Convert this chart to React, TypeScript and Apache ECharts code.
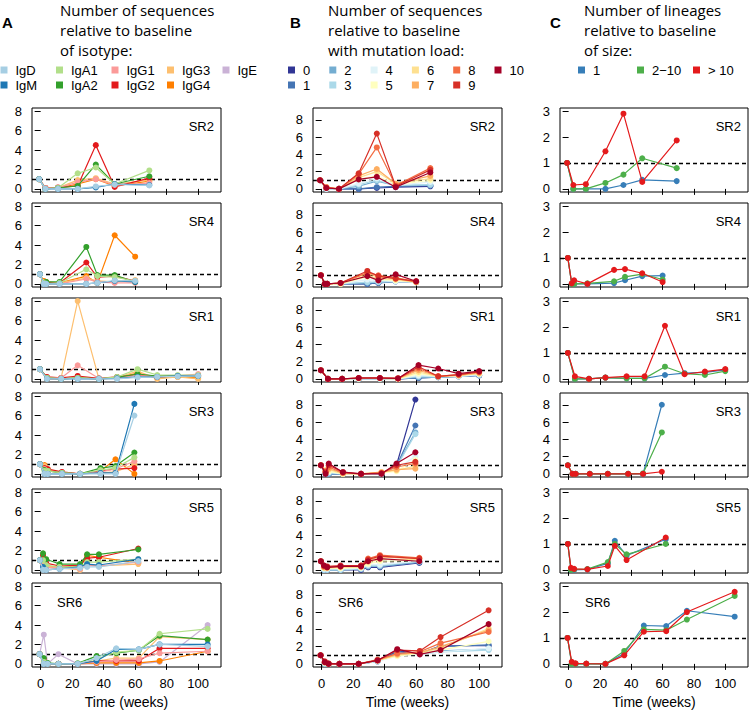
import React, { useEffect, useRef } from "react";
import * as echarts from "echarts";

// ---------- data ----------
const subjects = ["SR2", "SR4", "SR1", "SR3", "SR5", "SR6"];

const tSR2 = [-1, 3, 11, 23.5, 35, 47, 69];
const tSR4 = [-0.5, 2, 3.5, 12, 29, 36, 47, 60];
const tSR1 = [-0.5, 4, 13, 23.5, 37, 48.5, 61.5, 74, 87, 100];
const tSR3 = [-0.5, 2.5, 4.5, 13.5, 25, 38, 47.5, 59.5];
const tSR5 = [-0.5, 1.5, 3.5, 12, 25, 29.5, 37, 62];
const tSR6 = [-0.7, 2, 4.4, 11.3, 23.5, 35.5, 48, 62.3, 75.5, 106];

const xTicks = [0, 20, 40, 60, 80, 100];
const yTicksWide = [0, 2, 4, 6, 8];
const yTicksNarrow = [0, 1, 2, 3];

// Panel A: isotypes
const isotypes = ["IgD", "IgM", "IgA1", "IgA2", "IgG1", "IgG2", "IgG3", "IgG4", "IgE"];
const isotypeColors = ["#a6cee3", "#1f78b4", "#b2df8a", "#33a02c", "#fb9a99", "#e31a1c", "#fdbf6f", "#ff7f00", "#cab2d6"];

const isoSR2 = [
  [1, 0, 0, 0, 0.25, 0.45, 0.35],
  [1, 0, 0, 0, 0.15, 0.5, 0.4],
  [1, 0, 0.1, 1.6, 2.2, 0.5, 1.9],
  [1, 0, 0.1, 0.3, 2.5, 0.5, 1.3],
  [1, 0.1, 0.1, 0.7, 1.0, 0.4, 0.6],
  [1, 0.1, 0.15, 0.3, 4.5, 0.2, 1.1],
  [1, 0.1, 0.1, 0.9, 1.1, 0.5, 0.9],
  [1, 0.1, 0.1, 0.5, 1.0, 0.3, 0.8],
  null,
];
const isoSR4 = [
  [1, 0, 0, 0, 0, 0.1, 0.35, 0.3],
  [1, 0, 0, 0, 0, 0.1, 0.3, 0.2],
  [1, 0.1, 0, 0.1, 1.5, 0.8, 0.7, 0.3],
  [1, 0.1, 0.2, 0.2, 3.8, 0.9, 0.9, 0.2],
  [1, 0, 0, 0, 0.5, 0.2, 0.1, 0.1],
  [1, 0.1, 0.1, 0.1, 2.2, 0.7, 0.8, 0.3],
  [1, 0.2, 0.1, 0.1, 0.6, 0.3, 0.2, 0.4],
  [1, 0.3, 0.2, 0.1, 0.8, 0.1, 5.0, 2.8],
  null,
];
const isoSR1 = [
  [1, 0, 0, 0, 0, 0, 0.15, 0.2, 0.25, 0.3],
  [1, 0, 0, 0, 0, 0.05, 0.2, 0.2, 0.3, 0.3],
  [1, 0.1, 0, 0.1, 0, 0.2, 1.0, 0.4, 0.4, 0.4],
  [1, 0.1, 0, 0.1, 0, 0.15, 0.5, 0.3, 0.3, 0.3],
  [1, 0.1, 0.1, 1.4, 0.05, 0.1, 0.4, 0.3, 0.3, 0.5],
  [1, 0.2, 0.1, 0.3, 0.05, 0.2, 0.4, 0.2, 0.3, 0.3],
  [1, 0.1, 0.1, 8.0, 0, 0.1, 0.8, 0, 0.2, 0],
  [1, 0, 0, 0.1, 0, 0.1, 0.6, 0.1, 0.2, 0.1],
  null,
];
const isoSR3 = [
  [1, 0, 0, 0, 0, 0, 0, 6.0],
  [1, 0, 0, 0, 0, 0.1, 0.1, 7.2],
  [1, 0.3, 0.3, 0.1, 0, 0.4, 0.6, 1.7],
  [1, 0.4, 0.3, 0.1, 0, 0.6, 0.8, 2.2],
  [1, 0.5, 0.3, 0.1, 0, 0.2, 0.5, 1.3],
  [1, 0.6, 0.5, 0.2, 0, 0.3, 0.5, 0.6],
  [1, 0.8, 0.5, 0.1, 0, 0.1, 0.2, 1.0],
  [1, 0.9, 0.4, 0.1, 0, 0.3, 1.5, 0],
  null,
];
const isoSR5 = [
  [1, 0, 0, 0.1, 0.2, 0.3, 0.3, 0.9],
  [1, 0.3, 0, 0.1, 0.3, 0.6, 0.5, 1.1],
  [1, 1.0, 0.5, 0.3, 0.3, 0.8, 0.8, 1.1],
  [1, 1.7, 1.1, 0.6, 0.6, 1.6, 1.6, 2.1],
  [1, 0.5, 0.2, 0.2, 0.1, 0.5, 0.4, 0.8],
  [1, 1.5, 0.7, 0.4, 0.5, 1.2, 1.3, 2.2],
  [1, 0.8, 0.4, 0.2, 0, 0.5, 0.4, 0.6],
  [1, 0.6, 0.3, 0.3, 0.4, 1.5, 1.3, 0.7],
  null,
];
const isoSR6 = [
  [1, 0, 0, 0, 0, 0.6, 1.6, 1.5, 2.0, 1.8],
  [1, 0, 0, 0, 0, 0.3, 1.5, 1.5, 2.0, 2.0],
  [1, 0.2, 0, 0, 0.05, 0.5, 1.2, 1.4, 3.1, 3.6],
  [1, 0.6, 0.1, 0, 0.05, 0.8, 1.1, 1.4, 2.9, 2.5],
  [1, 0.3, 0, 0, 0, 0.2, 0.4, 0.5, 1.1, 1.3],
  [1, 0.5, 0, 0, 0, 0.3, 0.3, 0.3, 1.6, 1.6],
  [1, 0.3, 0, 0, 0, 0.3, 0.6, 0.6, 2.8, 2.5],
  [1, 0.1, 0, 0, 0, 0.1, 0.1, 0.1, 0.3, 1.3],
  [1, 3.0, 0, 1.0, 0, 0, 0, 0, 0.2, 4.0],
];

// Panel B: mutation load
const mutLoads = ["0", "1", "2", "3", "4", "5", "6", "7", "8", "9", "10"];
const mutColors = ["#313695", "#4575b4", "#74add1", "#abd9e9", "#e0f3f8", "#ffffbf", "#fee090", "#fdae61", "#f46d43", "#d73027", "#a50026"];

const mutSR2 = [
  [1, 0, 0, 0, 0.1, 0.2, 0.3],
  [1, 0, 0, 0, 0.2, 0.3, 0.4],
  [1, 0, 0, 0.3, 0.9, 0.4, 0.4],
  [1, 0, 0, 0.5, 1.0, 0.4, 0.5],
  [1, 0, 0, 0.6, 1.2, 0.4, 0.8],
  [1, 0.1, 0, 1.1, 1.5, 0.5, 1.0],
  [1, 0.1, 0, 1.3, 2.0, 0.6, 1.2],
  [1, 0.2, 0, 1.5, 2.3, 0.6, 1.5],
  [1, 0.2, 0, 1.7, 4.8, 0.4, 2.4],
  [1, 0.1, 0, 1.8, 6.4, 0.3, 2.2],
  [1, 0.1, 0, 1.1, 1.4, 0.2, 1.9],
];
const mutSR4 = [
  [1, 0, 0, 0, 0, 0.1, 0.3, 0.2],
  [1, 0, 0, 0, 0, 0.1, 0.3, 0.2],
  [1, 0, 0, 0, 0.1, 0.2, 0.3, 0.2],
  [1, 0, 0, 0, 0.2, 0.2, 0.3, 0.2],
  [1, 0, 0, 0, 0.5, 0.4, 0.3, 0.2],
  [1, 0, 0, 0, 0.8, 0.5, 0.4, 0.2],
  [1, 0, 0, 0, 1.0, 0.6, 0.5, 0.2],
  [1, 0, 0, 0.1, 1.2, 0.8, 0.6, 0.2],
  [1, 0, 0, 0.1, 1.3, 1.0, 0.7, 0.3],
  [1, 0, 0, 0.1, 1.5, 0.9, 0.6, 0.3],
  [1, 0, 0, 0.1, 0.9, 0.4, 1.1, 0.3],
];
const mutSR1 = [
  [1, 0, 0, 0, 0, 0, 0.1, 0.2, 0.3, 0.4],
  [1, 0, 0, 0, 0, 0, 0.1, 0.2, 0.3, 0.4],
  [1, 0, 0, 0, 0, 0, 0.2, 0.2, 0.3, 0.4],
  [1, 0, 0, 0, 0, 0, 0.3, 0.2, 0.3, 0.5],
  [1, 0, 0, 0, 0, 0, 0.4, 0.3, 0.3, 0.5],
  [1, 0, 0, 0.05, 0.05, 0, 0.6, 0.3, 0.4, 0.6],
  [1, 0, 0, 0.05, 0.05, 0, 0.8, 0.3, 0.4, 0.6],
  [1, 0, 0, 0.1, 0.1, 0.05, 1.0, 0.3, 0.4, 0.7],
  [1, 0, 0, 0.1, 0.1, 0.05, 1.2, 0.3, 0.5, 0.8],
  [1, 0, 0, 0.1, 0.1, 0.05, 1.4, 0.3, 0.5, 0.8],
  [1, 0, 0, 0.1, 0.1, 0.05, 1.6, 1.2, 0.6, 0.9],
];
const mutSR3 = [
  [1, 0, 0, 0, 0, 0, 1.0, 8.6],
  [1, 0, 0, 0, 0, 0, 0.9, 5.6],
  [1, 0, 0, 0, 0, 0, 0.9, 4.8],
  [1, 0, 0.1, 0, 0, 0, 0.8, 4.6],
  [1, 0.1, 0.2, 0, 0, 0, 0.6, 2.0],
  [1, 0.2, 0.3, 0, 0, 0.1, 0.3, 1.6],
  [1, 0.3, 0.5, 0, 0, 0.2, 0.4, 0.9],
  [1, 0.4, 0.6, 0.1, 0, 0.2, 0.5, 0.6],
  [1, 0.3, 0.8, 0.1, 0, 0.1, 0.8, 1.2],
  [1, 0.2, 1.0, 0.2, 0, 0.1, 1.0, 1.4],
  [1, 0, 1.2, 0.2, 0, 0, 1.2, 2.5],
];
const mutSR5 = [
  [1, 0, 0, 0, 0, 0.3, 0.3, 0.8],
  [1, 0, 0, 0, 0.1, 0.4, 0.4, 0.9],
  [1, 0, 0, 0, 0.1, 0.4, 0.4, 0.9],
  [1, 0, 0, 0, 0.1, 0.5, 0.5, 1.0],
  [1, 0.1, 0.1, 0.1, 0.2, 0.6, 0.6, 1.0],
  [1, 0.2, 0.2, 0.2, 0.3, 0.7, 1.0, 1.1],
  [1, 0.3, 0.2, 0.3, 0.3, 0.9, 1.2, 1.2],
  [1, 0.3, 0.3, 0.4, 0.4, 1.1, 1.5, 1.3],
  [1, 0.4, 0.3, 0.4, 0.5, 1.3, 1.7, 1.4],
  [1, 0.5, 0.4, 0.5, 0.5, 1.2, 1.6, 1.3],
  [1, 0.5, 0.3, 0.4, 0.4, 1.0, 1.3, 1.0],
];
const mutSR6 = [
  [1, 0, 0, 0, 0, 0.3, 1.5, 1.2, 2.1, 2.1],
  [1, 0, 0, 0, 0, 0.3, 1.4, 1.2, 2.0, 2.2],
  [1, 0, 0, 0, 0, 0.3, 1.2, 1.2, 1.5, 1.7],
  [1, 0, 0, 0, 0, 0.3, 1.0, 1.1, 1.4, 1.6],
  [1, 0.1, 0, 0, 0, 0.3, 0.9, 1.2, 1.4, 1.8],
  [1, 0.1, 0, 0, 0, 0.4, 0.9, 1.2, 1.6, 2.6],
  [1, 0.2, 0, 0, 0, 0.4, 1.0, 1.3, 1.8, 4.1],
  [1, 0.2, 0, 0, 0, 0.4, 1.1, 1.3, 2.0, 3.9],
  [1, 0.2, 0, 0, 0, 0.5, 1.2, 1.4, 2.4, 3.7],
  [1, 0.3, 0.05, 0, 0, 0.4, 1.6, 1.5, 3.1, 6.2],
  [1, 0.2, 0, 0, 0, 0.4, 1.7, 1.1, 1.6, 4.6],
];

// Panel C: lineage size
const sizeClasses = ["1", "2\u221210", "> 10"];
const sizeColors = ["#377eb8", "#4daf4a", "#e41a1c"];

const linSR2 = [
  [1, 0, 0, 0, 0.15, 0.35, 0.3],
  [1, 0, 0, 0.23, 0.55, 1.18, 0.8],
  [1, 0.15, 0.18, 1.45, 2.9, 0.27, 1.87],
];
const linSR4 = [
  [1, 0, 0, 0, 0.03, 0.14, 0.3, 0.32],
  [1, 0, 0, 0.02, 0.1, 0.27, 0.38, 0.17],
  [1, 0.02, 0.14, 0, 0.54, 0.57, 0.41, 0.07],
];
const linSR1 = [
  [1, 0, 0, 0.05, 0.02, 0.02, 0.15, 0.22, 0.25, 0.35],
  [1, 0, 0, 0.05, 0.02, 0.02, 0.47, 0.2, 0.15, 0.3],
  [1, 0.1, 0, 0.05, 0.1, 0.1, 2.05, 0.18, 0.28, 0.38],
];
const linSR3 = [
  [1, 0, 0, 0, 0, 0, 0, 8.0],
  [1, 0, 0, 0, 0, 0, 0.05, 4.8],
  [1, 0, 0, 0, 0, 0, 0, 0.25],
];
const linSR5 = [
  [1, 0, 0, 0.02, 0.25, 1.12, 0.55, 1.18],
  [1, 0, 0.02, 0.03, 0.3, 1.0, 0.6, 1.0],
  [1, 0.08, 0.04, 0.02, 0.15, 0.93, 0.38, 1.25],
];
const linSR6 = [
  [1, 0, 0, 0, 0, 0.4, 1.48, 1.46, 2.05, 1.82],
  [1, 0, 0, 0, 0, 0.5, 1.33, 1.3, 1.71, 2.62],
  [1, 0.08, 0.02, 0.01, 0, 0.33, 1.24, 1.26, 2.0, 2.78],
];

const weeks = [tSR2, tSR4, tSR1, tSR3, tSR5, tSR6];
const isoData = [isoSR2, isoSR4, isoSR1, isoSR3, isoSR5, isoSR6];
const mutData = [mutSR2, mutSR4, mutSR1, mutSR3, mutSR5, mutSR6];
const linData = [linSR2, linSR4, linSR1, linSR3, linSR5, linSR6];

const headerA = ["Number of sequences", "relative to baseline", "of isotype:"];
const headerB = ["Number of sequences", "relative to baseline", "with mutation load:"];
const headerC = ["Number of lineages", "relative to baseline", "of size:"];

// ---------- layout ----------
const FONT_R = '"Liberation Sans", Arial, Helvetica, sans-serif';
const FONT_T = '"Open Sans", "Noto Sans", sans-serif';

const cols = [
  { left: 32, width: 189 },
  { left: 313, width: 189 },
  { left: 560, width: 188 },
];
const rowTops = [108, 203, 298, 393, 489, 583];
const rowH = 84;
const X_MIN = -5.5;
const X_MAX = 114.5;

function yRange(col: number, row: number) {
  if (col === 0) return { min: -0.32, max: 8.32, ticks: yTicksWide };
  if (col === 1) return { min: -0.36, max: 9.36, ticks: yTicksWide };
  if (row === 3) return { min: -0.36, max: 9.36, ticks: yTicksWide };
  return { min: -0.12, max: 3.12, ticks: yTicksNarrow };
}

function text(x: number, y: number, str: string, opts: any = {}) {
  const align = opts.align || "left";
  const fs = opts.fontSize || 14;
  return {
    type: "text",
    x,
    y,
    silent: true,
    style: {
      text: str,
      fill: "#000",
      fontSize: fs,
      lineHeight: opts.lineHeight || fs,
      fontFamily: opts.fontFamily || FONT_T,
      fontWeight: opts.fontWeight || "normal",
      align,
      textAlign: align,
      verticalAlign: "middle",
      textVerticalAlign: "middle",
    },
  };
}

function buildOption() {
  const grid: any[] = [];
  const xAxis: any[] = [];
  const yAxis: any[] = [];
  const series: any[] = [];
  const graphic: any[] = [];

  const mkSeries = (g: number, name: string, color: string, t: number[], vals: number[], z: number) => ({
    type: "line",
    name,
    xAxisIndex: g,
    yAxisIndex: g,
    data: t.map((tt, i) => [tt, vals[i]]),
    symbol: "circle",
    symbolSize: 6,
    showSymbol: true,
    silent: true,
    animation: false,
    z,
    lineStyle: { color, width: 1.2 },
    itemStyle: { color, borderWidth: 0 },
  });

  for (let c = 0; c < 3; c++) {
    for (let r = 0; r < 6; r++) {
      const g = c * 6 + r;
      const yr = yRange(c, r);
      const bottom = r === 5;
      grid.push({
        left: cols[c].left,
        top: rowTops[r],
        width: cols[c].width,
        height: rowH,
        show: true,
        borderColor: "#000",
        borderWidth: 1,
        backgroundColor: "transparent",
        containLabel: false,
        outerBoundsMode: "none",
      });
      xAxis.push({
        gridIndex: g,
        type: "value",
        min: X_MIN,
        max: X_MAX,
        axisLine: { show: false },
        splitLine: { show: false },
        axisTick: {
          show: true,
          customValues: xTicks,
          length: 6,
          inside: false,
          lineStyle: { color: "#000", width: 1 },
        },
        axisLabel: {
          show: bottom,
          customValues: xTicks,
          margin: 10,
          fontSize: 13,
          color: "#000",
          fontFamily: FONT_R,
        },
        name: bottom ? "Time (weeks)" : "",
        nameLocation: "middle",
        nameGap: 28,
        nameTextStyle: { fontSize: 14, color: "#000", fontFamily: FONT_R },
      });
      yAxis.push({
        gridIndex: g,
        type: "value",
        min: yr.min,
        max: yr.max,
        axisLine: { show: false },
        splitLine: { show: false },
        axisTick: {
          show: true,
          customValues: yr.ticks,
          length: 6,
          inside: false,
          lineStyle: { color: "#000", width: 1 },
        },
        axisLabel: {
          show: true,
          customValues: yr.ticks,
          margin: 10,
          fontSize: 13,
          color: "#000",
          fontFamily: FONT_R,
        },
      });

      const t = weeks[r];
      const panelSeries: any[] = [];
      if (c === 0) {
        for (let k = isotypes.length - 1; k >= 0; k--) {
          const v = isoData[r][k];
          if (!v) continue;
          panelSeries.push(mkSeries(g, isotypes[k], isotypeColors[k], t, v, 10 + (isotypes.length - k)));
        }
      } else if (c === 1) {
        for (let k = 0; k < mutLoads.length; k++) {
          panelSeries.push(mkSeries(g, mutLoads[k], mutColors[k], t, mutData[r][k], 10 + k));
        }
      } else {
        for (let k = 0; k < sizeClasses.length; k++) {
          panelSeries.push(mkSeries(g, sizeClasses[k], sizeColors[k], t, linData[r][k], 10 + k));
        }
      }
      const last = panelSeries[panelSeries.length - 1];
      last.markLine = {
        silent: true,
        symbol: ["none", "none"],
        label: { show: false },
        animation: false,
        lineStyle: { color: "#000", width: 1.3, type: [4, 3] },
        data: [{ yAxis: 1 }],
      };
      series.push(...panelSeries);

      // panel label
      if (r === 5) {
        graphic.push(text(cols[c].left + 25, rowTops[r] + 19, subjects[r], { fontFamily: FONT_R, fontSize: 13 }));
      } else {
        graphic.push(
          text(cols[c].left + cols[c].width - 7, rowTops[r] + 18.5, subjects[r], {
            fontFamily: FONT_R,
            fontSize: 13,
            align: "right",
          })
        );
      }
    }
  }

  // headers
  const headers = [
    { letter: "A", lx: 2, tx: 60, lines: headerA },
    { letter: "B", lx: 290, tx: 328, lines: headerB },
    { letter: "C", lx: 550, tx: 584, lines: headerC },
  ];
  headers.forEach((h) => {
    graphic.push(text(h.lx, 22, h.letter, { fontWeight: "bold", fontSize: 15, fontFamily: FONT_R }));
    h.lines.forEach((ln, i) => graphic.push(text(h.tx, 9.5 + i * 20, ln, { fontSize: 15, lineHeight: 17 })));
  });

  // legends
  const legendRowY = [70, 85];
  const legendItem = (x: number, y: number, label: string, color: string) => {
    graphic.push({
      type: "rect",
      silent: true,
      shape: { x, y: y - 3.5, width: 7, height: 7 },
      style: { fill: color },
    });
    graphic.push(text(x + 15, y, label, { fontSize: 13, lineHeight: 13, fontFamily: FONT_R }));
  };
  isotypes.forEach((nm, i) => legendItem(0.5 + Math.floor(i / 2) * 55.5, legendRowY[i % 2], nm, isotypeColors[i]));
  mutLoads.forEach((nm, i) => legendItem(288 + Math.floor(i / 2) * 41.3, legendRowY[i % 2], nm, mutColors[i]));
  const cLegendX = [578, 637, 693];
  sizeClasses.forEach((nm, i) => legendItem(cLegendX[i], legendRowY[0], nm, sizeColors[i]));

  return {
    animation: false,
    backgroundColor: "#fff",
    grid,
    xAxis,
    yAxis,
    series,
    graphic: { elements: graphic },
  };
}

export default function App() {
  const ref = useRef<HTMLDivElement>(null);
  useEffect(() => {
    if (!ref.current) return;
    const chart = echarts.init(ref.current, null, { renderer: "svg" });
    chart.setOption(buildOption() as any);
    return () => chart.dispose();
  }, []);
  return (
    <div
      ref={ref}
      style={{ position: "absolute", left: 0, top: 0, width: 751, height: 712, background: "#fff" }}
    />
  );
}
